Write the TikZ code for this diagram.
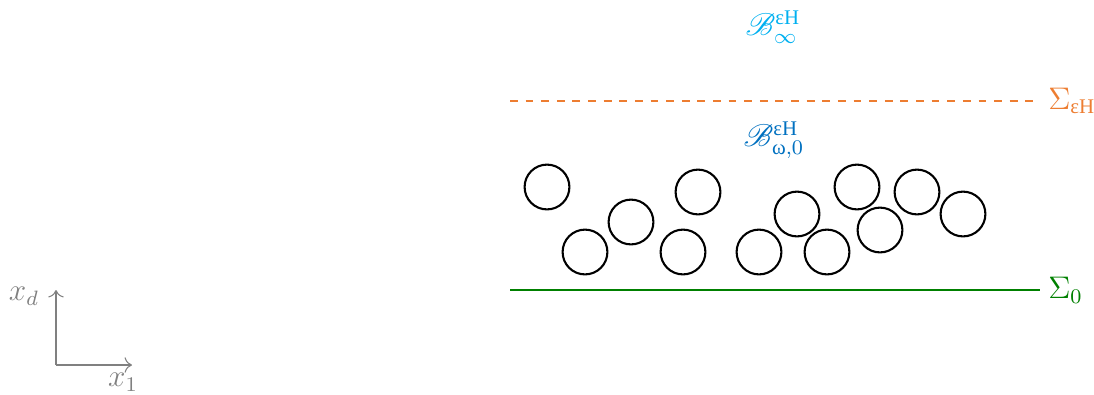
\documentclass[tikz,border=0pt]{standalone}
\usepackage{amsmath}
\usepackage{mathrsfs}
\usepackage{fontspec}
\newfontfamily\grk{Liberation Serif}
\usetikzlibrary{arrows.meta,positioning}
\definecolor{skyblue}{RGB}{0,176,240}
\definecolor{deepblue}{RGB}{0,112,192}
\definecolor{layerorange}{RGB}{237,125,49}
\definecolor{bottomgreen}{RGB}{0,128,0}
\definecolor{axisgray}{RGB}{128,128,128}

\begin{document}
\begin{tikzpicture}[
  x=0.0135cm, y=-0.0135cm,
  grain/.style={
    circle,
    draw,
    thick,
    inner sep=0pt,
    minimum size=0.605cm
  },
  axis/.style={axisgray, line width=0.4pt, -{To[length=1mm]}},
  lbl/.style={inner sep=1pt, font=\large}
]
\useasboundingbox (0,0) rectangle (1094,394);

% grains
\node[grain] (g1) at (547,187) {};
\node[grain] (g2) at (631,222) {};
\node[grain] (g3) at (585,252) {};
\node[grain] (g4) at (698,192) {};
\node[grain] (g5) at (683,252) {};
\node[grain] (g6) at (759,252) {};
\node[grain] (g7) at (797,214) {};
\node[grain] (g8) at (827,252) {};
\node[grain] (g9) at (857,187) {};
\node[grain] (g10) at (880,230) {};
\node[grain] (g11) at (917,192) {};
\node[grain] (g12) at (963,214) {};

% interfaces
\coordinate (top-l) at (510,101);
\coordinate (top-r) at (1040,101);
\coordinate (bot-l) at (510,290);
\coordinate (bot-r) at (1040,290);
\draw[layerorange, thick, dashed] (top-l) -- (top-r);
\draw[bottomgreen, thick] (bot-l) -- (bot-r);
\node[lbl, layerorange, right=2pt of top-r] (sig-top) {$\Sigma_{\text{\grk εH}}$};
\node[lbl, bottomgreen, right=2pt of bot-r] (sig-bot) {$\Sigma_0$};

% layers
\node[lbl, skyblue] (b-inf) at (773,27) {$\mathscr{B}^{\text{\grk εH}}_{\infty}$};
\node[lbl, deepblue] (b-omega) at (774,140) {$\mathscr{B}^{\text{\grk εH}}_{\text{\grk ω},0}$};

% axes
\coordinate (o) at (56,365);
\coordinate (ax-d) at (56,290);
\coordinate (ax-1) at (132,365);
\draw[axis] (o) -- (ax-d);
\draw[axis] (o) -- (ax-1);
\node[lbl, axisgray] (xd) at (24,296) {$x_d$};
\node[lbl, axisgray] (x1) at (123,382) {$x_1$};
\end{tikzpicture}
\end{document}
